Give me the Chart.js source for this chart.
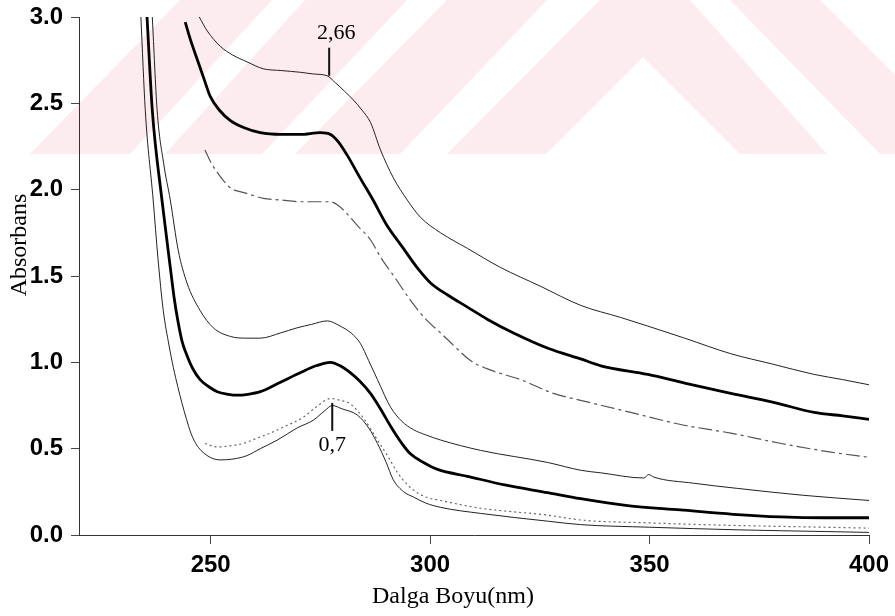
<!DOCTYPE html>
<html>
<head>
<meta charset="utf-8">
<script src="https://cdn.jsdelivr.net/npm/chart.js@4.4.1/dist/chart.umd.min.js"></script>
<style>
  html, body { margin: 0; padding: 0; background: #fff; }
  #grafik { display: block; }
</style>
</head>
<body>
<canvas id="grafik" width="895" height="616"></canvas>
<script>
// eksen yazilari
const xBaslik = 'Dalga Boyu(nm)';
const yBaslik = 'Absorbans';
const xTikler = [250, 300, 350, 400];

// egriler: dalga boyu (nm) ve absorbans
const dalga1 = [247.4, 249.2, 252.2, 255, 258.3, 262, 266, 270.4, 273.4, 276.5, 278.4, 280.5, 282.5, 284.5, 286.4, 288.7, 291.6, 294.8, 297.8, 302.4, 308.5, 316, 325.2, 334.3, 343.4, 349.6, 358, 368.5, 378, 387.5, 394, 400];
const abs1 = [3.0, 2.92, 2.83, 2.78, 2.74, 2.70, 2.69, 2.68, 2.67, 2.66, 2.62, 2.57, 2.52, 2.46, 2.39, 2.23, 2.07, 1.94, 1.84, 1.75, 1.66, 1.55, 1.44, 1.33, 1.26, 1.21, 1.14, 1.05, 0.99, 0.93, 0.90, 0.87];

const dalga2 = [244.2, 245.5, 247, 248.5, 249.9, 252, 254.5, 257.5, 261.3, 266, 270.4, 275, 277.3, 279, 281.1, 284, 287, 290, 293.9, 297, 300.1, 304, 308.5, 313, 319, 327, 334.3, 338.9, 349.6, 358, 368.5, 378, 387.5, 394, 400];
const abs2 = [2.97, 2.86, 2.75, 2.64, 2.54, 2.46, 2.40, 2.36, 2.33, 2.32, 2.32, 2.33, 2.32, 2.28, 2.20, 2.07, 1.94, 1.80, 1.66, 1.55, 1.46, 1.39, 1.32, 1.25, 1.17, 1.08, 1.02, 0.98, 0.93, 0.88, 0.82, 0.77, 0.71, 0.69, 0.67];

const dalga3 = [248.7, 250, 251.5, 253, 254.5, 258, 262, 266, 270.4, 274, 277.3, 279, 281.1, 283.5, 286.4, 288.7, 292, 295.5, 299, 302.4, 305.3, 309.2, 313.8, 320.6, 328.1, 334.3, 345.7, 357.1, 368.5, 380, 391.3, 400];
const abs3 = [2.23, 2.16, 2.10, 2.05, 2.01, 1.98, 1.95, 1.94, 1.93, 1.93, 1.93, 1.91, 1.86, 1.79, 1.71, 1.61, 1.49, 1.36, 1.25, 1.17, 1.10, 1.01, 0.955, 0.90, 0.82, 0.78, 0.71, 0.64, 0.59, 0.53, 0.48, 0.45];

const dalga4 = [236.7, 237.8, 239.3, 240.8, 242.6, 244.6, 247.6, 250.6, 254.5, 258, 261.3, 265.9, 269.7, 273, 276.6, 279.5, 282, 284.1, 286, 288, 291, 293.5, 296.2, 299, 302.4, 311.5, 326.8, 334.3, 338.9, 348.7, 349.8, 351, 360, 370, 385, 400];
const abs4 = [3.0, 2.46, 2.15, 1.94, 1.65, 1.46, 1.30, 1.20, 1.15, 1.14, 1.14, 1.17, 1.20, 1.22, 1.24, 1.21, 1.17, 1.11, 1.01, 0.90, 0.74, 0.66, 0.61, 0.58, 0.55, 0.49, 0.42, 0.375, 0.36, 0.33, 0.35, 0.335, 0.30, 0.27, 0.23, 0.20];

const dalga5 = [235.5, 236.7, 238.9, 240.8, 241.7, 242.6, 243.5, 244.6, 246, 247.6, 249.5, 251.5, 254, 256, 258.5, 261.3, 265.9, 270.4, 274, 277.3, 279.5, 281.8, 284, 286.4, 288.7, 291, 293.3, 295.5, 298.5, 301.7, 308.5, 317, 326.8, 334.3, 345, 357, 369, 379.9, 390, 400];
const abs5 = [3.0, 2.46, 1.94, 1.55, 1.37, 1.23, 1.12, 1.04, 0.96, 0.90, 0.86, 0.83, 0.815, 0.81, 0.815, 0.83, 0.885, 0.94, 0.98, 1.00, 0.98, 0.94, 0.89, 0.82, 0.73, 0.63, 0.54, 0.47, 0.42, 0.38, 0.34, 0.29, 0.245, 0.21, 0.17, 0.145, 0.12, 0.105, 0.10, 0.10];

const dalga6 = [248.7, 251.5, 254, 257.4, 260.5, 263.6, 267, 271, 274, 277.3, 279.5, 281.8, 285, 288, 290.5, 292.6, 294.5, 296.2, 299, 302.4, 311.5, 326.8, 334.3, 350, 370, 390, 400];
const abs6 = [0.53, 0.51, 0.515, 0.53, 0.56, 0.59, 0.63, 0.68, 0.74, 0.79, 0.78, 0.76, 0.67, 0.55, 0.45, 0.36, 0.30, 0.26, 0.22, 0.20, 0.155, 0.115, 0.087, 0.07, 0.055, 0.045, 0.04];

const dalga7 = [234.1, 235.1, 236.9, 238, 239.2, 240.5, 241.5, 242.5, 243.5, 244.5, 245.5, 246.6, 247.8, 249.2, 250.8, 252.2, 255.1, 258.3, 261.3, 265.2, 269.7, 273.4, 276, 277.7, 280, 283.4, 286, 288, 290, 291.6, 294, 296.2, 299, 302.4, 311.5, 326.8, 334.3, 350, 370, 390, 400];
const abs7 = [3.0, 2.46, 1.94, 1.60, 1.30, 1.10, 0.97, 0.86, 0.76, 0.67, 0.59, 0.53, 0.49, 0.46, 0.44, 0.435, 0.44, 0.46, 0.50, 0.55, 0.62, 0.665, 0.72, 0.75, 0.73, 0.695, 0.62, 0.53, 0.42, 0.32, 0.25, 0.22, 0.185, 0.16, 0.125, 0.08, 0.06, 0.045, 0.03, 0.02, 0.015];

// isaretli degerler
const notYazi = ['2,66', '0,7'];
const notDalga = [277, 277.7];
const notAbs = [2.66, 0.765];

function seri(dalga, abs) {
  return dalga.map((x, i) => ({ x: x, y: abs[i] }));
}

// arka plandaki soluk filigran
const filigran = [
  [[30, 154], [130, 154], [272, 0], [180, 0]],
  [[165, 154], [262, 154], [407, 0], [305, 0]],
  [[295, 154], [400, 154], [547, 0], [447, 0]],
  [[447, 154], [600, 0], [690, 0], [827, 154], [740, 154], [643, 57], [546, 154]],
  [[730, 0], [820, 0], [895, 75], [895, 154], [880, 154]]
];

const arkaPlan = {
  id: 'arkaPlan',
  beforeDraw(chart) {
    const ctx = chart.ctx;
    ctx.save();
    ctx.fillStyle = '#fff';
    ctx.fillRect(0, 0, chart.width, chart.height);
    ctx.beginPath();
    ctx.rect(0, 0, chart.width, 154);
    ctx.clip();
    ctx.fillStyle = '#fcebef';
    filigran.forEach(p => {
      ctx.beginPath();
      p.forEach(([x, y], i) => i ? ctx.lineTo(x, y) : ctx.moveTo(x, y));
      ctx.closePath();
      ctx.fill();
    });
    ctx.restore();
  }
};

const yazilar = {
  id: 'yazilar',
  afterDraw(chart) {
    const ctx = chart.ctx;
    const xs = chart.scales.x, ys = chart.scales.y;
    ctx.save();
    ctx.fillStyle = '#000';
    ctx.strokeStyle = '#111';
    ctx.textAlign = 'center';
    ctx.textBaseline = 'middle';
    ctx.font = '24px "Liberation Serif"';
    ctx.fillText(xBaslik, 453, 597);
    ctx.save();
    ctx.translate(20, 245);
    ctx.rotate(-Math.PI / 2);
    ctx.fillText(yBaslik, 0, 0);
    ctx.restore();

    ctx.font = '22px "Liberation Serif"';
    ctx.lineWidth = 2;
    notYazi.forEach((t, i) => {
      const px = xs.getPixelForValue(notDalga[i]);
      const py = ys.getPixelForValue(notAbs[i]);
      const yon = i === 0 ? -1 : 1;
      ctx.beginPath();
      ctx.moveTo(px, py);
      ctx.lineTo(px, py + yon * 28);
      ctx.stroke();
      ctx.fillText(t, px + (i === 0 ? 7 : 0), py + yon * 42);
    });
    ctx.restore();
  }
};

const ctx = document.getElementById('grafik').getContext('2d');
new Chart(ctx, {
  type: 'line',
  data: {
    datasets: [
      { data: seri(dalga1, abs1), borderColor: '#222', borderWidth: 1 },
      { data: seri(dalga2, abs2), borderColor: '#000', borderWidth: 2.8 },
      { data: seri(dalga3, abs3), borderColor: '#555', borderWidth: 1.2, borderDash: [14, 4, 3, 4] },
      { data: seri(dalga4, abs4), borderColor: '#222', borderWidth: 1 },
      { data: seri(dalga5, abs5), borderColor: '#000', borderWidth: 2.8 },
      { data: seri(dalga6, abs6), borderColor: '#666', borderWidth: 1.2, borderDash: [2, 3] },
      { data: seri(dalga7, abs7), borderColor: '#222', borderWidth: 1 }
    ]
  },
  options: {
    responsive: false,
    animation: false,
    parsing: false,
    layout: { padding: { left: 0, right: 26, top: 17, bottom: 0 } },
    elements: {
      point: { radius: 0 },
      line: { cubicInterpolationMode: 'monotone', fill: false }
    },
    plugins: {
      legend: { display: false },
      tooltip: { enabled: false }
    },
    scales: {
      x: {
        type: 'linear',
        min: 220,
        max: 400,
        afterFit: s => {
          s.height = 81;
          s.paddingLeft = 0; s.paddingRight = 0; s.paddingTop = 0; s.paddingBottom = 0;
        },
        afterBuildTicks: s => { s.ticks = xTikler.map(v => ({ value: v })); },
        grid: { display: true, drawOnChartArea: false, tickLength: 9, color: '#444' },
        border: { display: true, color: '#333', width: 1 },
        ticks: {
          color: '#000',
          padding: 7,
          maxRotation: 0,
          font: { family: '"Liberation Sans", Arial, sans-serif', size: 24, weight: 'bold' }
        }
      },
      y: {
        type: 'linear',
        min: 0,
        max: 3,
        afterFit: s => {
          s.width = 79;
          s.paddingLeft = 0; s.paddingRight = 0; s.paddingTop = 0; s.paddingBottom = 0;
        },
        grid: { display: true, drawOnChartArea: false, tickLength: 8, color: '#444' },
        border: { display: true, color: '#333', width: 1 },
        ticks: {
          stepSize: 0.5,
          color: '#000',
          padding: 8,
          callback: v => v.toFixed(1),
          font: { family: '"Liberation Sans", Arial, sans-serif', size: 24, weight: 'bold' }
        }
      }
    }
  },
  plugins: [arkaPlan, yazilar]
});
</script>
</body>
</html>
